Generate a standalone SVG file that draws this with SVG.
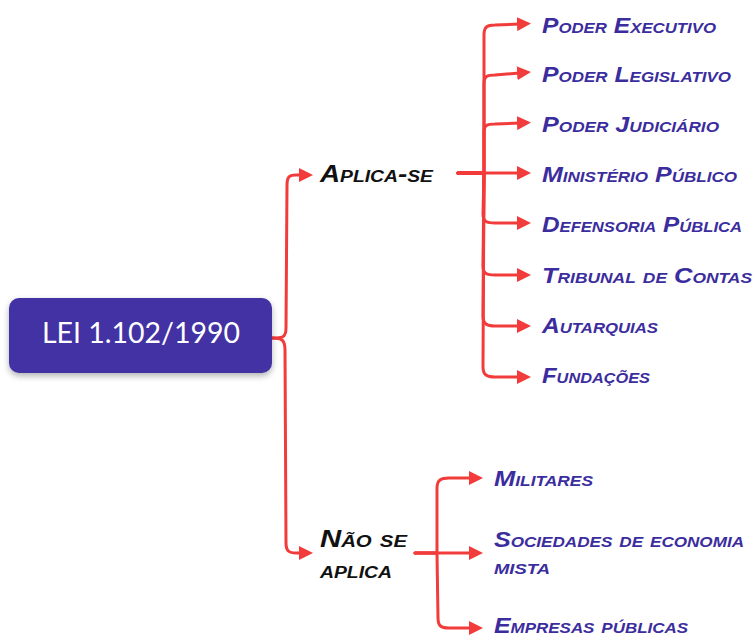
<svg xmlns="http://www.w3.org/2000/svg" width="755" height="637" viewBox="0 0 755 637">
<defs>
<style>
.c{fill:none;stroke:#F23B3B;stroke-width:3;stroke-linecap:round;stroke-linejoin:round}
.l1{font-family:"Liberation Sans",Arial,sans-serif;font-weight:bold;font-style:italic;font-variant:small-caps;font-size:23px;fill:#111}
.l2{font-family:"Liberation Sans",Arial,sans-serif;font-weight:bold;font-style:italic;font-variant:small-caps;font-size:22px;fill:#3B2D9E}
.root{font-family:"Lato","Liberation Sans",Arial,sans-serif;font-size:29px;fill:#fff}
</style>
<marker id="ah" viewBox="0 0 14 14" refX="3" refY="7" markerWidth="14" markerHeight="14" markerUnits="userSpaceOnUse" orient="auto">
<path d="M0,0 L14,7 L0,14 z" fill="#F23B3B"/>
</marker>
<filter id="sh" x="-10%" y="-20%" width="120%" height="150%">
<feDropShadow dx="0" dy="3" stdDeviation="3" flood-color="#000" flood-opacity="0.3"/>
</filter>
</defs>
<g id="connectors">
<path class="c" marker-end="url(#ah)" d="M272,338 C282,338 286,338 286,328 L287,185 C287,176 290,175 296,175 L302,175"/>
<path class="c" marker-end="url(#ah)" d="M272,338 C282,338 285,340 285,350 L286,543 C286,551 289,553 296,553 L302,553"/>
<path class="c" marker-end="url(#ah)" d="M458,173 L484,173 L484,35 C484,27 487,25 495,25 L520,24"/>
<path class="c" marker-end="url(#ah)" d="M458,173 L484,173 L484,84 C484,76 487,75 495,75 L520,73"/>
<path class="c" marker-end="url(#ah)" d="M458,173 L484,173 L484,132 C484,125 487,124 495,124 L520,123"/>
<path class="c" marker-end="url(#ah)" d="M458,173 L520,173"/>
<path class="c" marker-end="url(#ah)" d="M458,173 L484,173 L483,214 C483,222 487,223 495,223 L520,223"/>
<path class="c" marker-end="url(#ah)" d="M458,173 L484,173 L483,266 C483,274 487,275 495,275 L520,275"/>
<path class="c" marker-end="url(#ah)" d="M458,173 L484,173 L483,316 C483,324 487,326 495,326 L520,326"/>
<path class="c" marker-end="url(#ah)" d="M458,173 L484,173 L483,367 C483,375 487,377 495,377 L520,377"/>
<path class="c" marker-end="url(#ah)" d="M415,553 L437,553 L437,488 C437,480 441,478 449,478 L472,478"/>
<path class="c" marker-end="url(#ah)" d="M415,553 L472,553"/>
<path class="c" marker-end="url(#ah)" d="M415,553 L437,553 L438,618 C438,626 441,628 449,628 L472,628"/>
</g>
<g id="root">
<rect x="9" y="298" width="263" height="75" rx="10" fill="#4230A3" filter="url(#sh)"/>
<text class="root" x="42" y="343" textLength="198" lengthAdjust="spacingAndGlyphs">LEI 1.102/1990</text>
</g>
<g id="aplica">
<text class="l1" x="320" y="182" textLength="113" lengthAdjust="spacingAndGlyphs">Aplica-se</text>
</g>
<g id="naoaplica">
<text class="l1" x="320" y="547" textLength="87" lengthAdjust="spacingAndGlyphs">Não se</text>
<text class="l1" x="320" y="578" textLength="72" lengthAdjust="spacingAndGlyphs">aplica</text>
</g>
<g id="executivo"><text class="l2" x="542" y="33" textLength="174" lengthAdjust="spacingAndGlyphs">Poder Executivo</text></g>
<g id="legislativo"><text class="l2" x="542" y="82" textLength="189" lengthAdjust="spacingAndGlyphs">Poder Legislativo</text></g>
<g id="judiciario"><text class="l2" x="542" y="132" textLength="177" lengthAdjust="spacingAndGlyphs">Poder Judiciário</text></g>
<g id="ministerio"><text class="l2" x="542" y="182" textLength="195" lengthAdjust="spacingAndGlyphs">Ministério Público</text></g>
<g id="defensoria"><text class="l2" x="542" y="232" textLength="200" lengthAdjust="spacingAndGlyphs">Defensoria Pública</text></g>
<g id="tribunal"><text class="l2" x="542" y="283" textLength="210" lengthAdjust="spacingAndGlyphs">Tribunal de Contas</text></g>
<g id="autarquias"><text class="l2" x="542" y="333" textLength="116" lengthAdjust="spacingAndGlyphs">Autarquias</text></g>
<g id="fundacoes"><text class="l2" x="542" y="383" textLength="108" lengthAdjust="spacingAndGlyphs">Fundações</text></g>
<g id="militares"><text class="l2" x="494" y="486" textLength="99" lengthAdjust="spacingAndGlyphs">Militares</text></g>
<g id="sociedades">
<text class="l2" x="494" y="547" textLength="250" lengthAdjust="spacingAndGlyphs">Sociedades de economia</text>
<text class="l2" x="494" y="574" textLength="56" lengthAdjust="spacingAndGlyphs">mista</text>
</g>
<g id="empresas"><text class="l2" x="494" y="633" textLength="194" lengthAdjust="spacingAndGlyphs">Empresas públicas</text></g>
</svg>
